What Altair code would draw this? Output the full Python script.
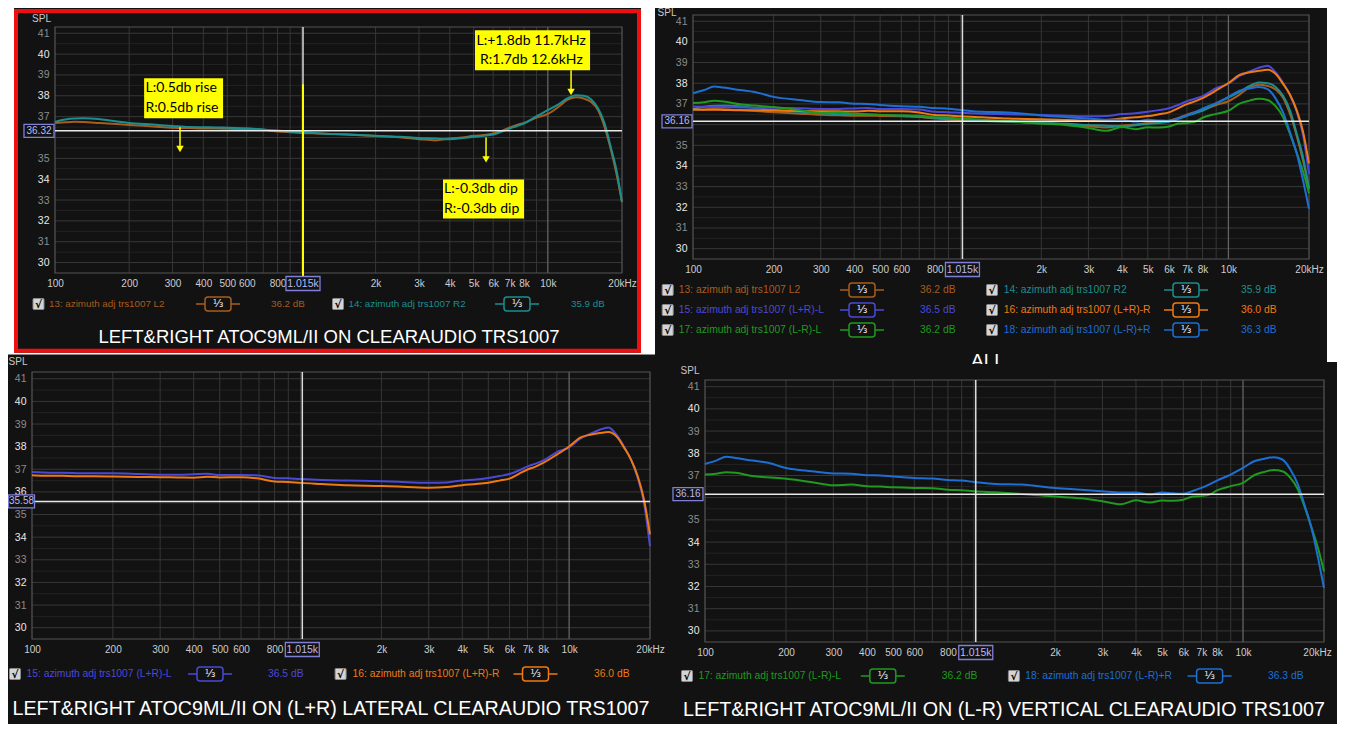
import altair as alt
import pandas as pd

# ------------------------------------------------------------------ data
FREQ = [100, 110, 120, 130, 150, 170, 200, 250, 300, 350, 400, 450, 500, 600, 700, 800, 900,
        1000, 1200, 1500, 2000, 2500, 3000, 3500, 4000, 4500, 5000, 5500, 6000, 6500, 7000,
        7500, 8000, 9000, 10000, 11000, 12000, 13000, 14000, 15000, 16000, 17000, 18000,
        19000, 20000]

S13 = [36.70, 36.73, 36.75, 36.74, 36.70, 36.66, 36.60, 36.53, 36.47, 36.45, 36.43, 36.43, 36.42,
       36.40, 36.37, 36.29, 36.25, 36.22, 36.19, 36.14, 36.07, 36.01, 35.92, 35.86, 35.95, 36.00,
       36.08, 36.12, 36.19, 36.32, 36.48, 36.60, 36.70, 36.95, 37.13, 37.45, 37.80, 37.93, 37.87,
       37.70, 37.30, 36.50, 35.45, 34.25, 32.90]
S14 = [36.75, 36.86, 36.91, 36.92, 36.89, 36.80, 36.70, 36.62, 36.55, 36.50, 36.49, 36.48, 36.47,
       36.44, 36.38, 36.33, 36.28, 36.26, 36.19, 36.15, 36.08, 36.04, 35.98, 35.95, 35.91, 35.97,
       36.03, 36.08, 36.14, 36.28, 36.43, 36.55, 36.67, 37.02, 37.31, 37.58, 37.87, 38.03, 38.00,
       37.82, 37.39, 36.67, 35.54, 34.42, 32.90]
S15 = [36.88, 36.86, 36.85, 36.85, 36.83, 36.82, 36.82, 36.79, 36.76, 36.76, 36.78, 36.80, 36.75,
       36.75, 36.73, 36.62, 36.60, 36.57, 36.53, 36.50, 36.47, 36.43, 36.40, 36.42, 36.51, 36.55,
       36.62, 36.70, 36.79, 36.95, 37.13, 37.25, 37.38, 37.76, 37.97, 38.35, 38.57, 38.75, 38.85,
       38.53, 38.01, 37.43, 36.62, 35.51, 33.60]
S16 = [36.74, 36.72, 36.72, 36.71, 36.69, 36.69, 36.68, 36.66, 36.65, 36.64, 36.63, 36.67, 36.64,
       36.65, 36.59, 36.46, 36.44, 36.40, 36.35, 36.29, 36.26, 36.22, 36.19, 36.22, 36.30, 36.35,
       36.41, 36.50, 36.59, 36.80, 36.99, 37.12, 37.28, 37.65, 38.01, 38.40, 38.53, 38.60, 38.65,
       38.46, 37.97, 37.43, 36.69, 35.66, 34.12]
S17 = [37.04, 37.08, 37.15, 37.12, 36.98, 36.92, 36.85, 36.70, 36.56, 36.59, 36.52, 36.50, 36.47,
       36.44, 36.43, 36.36, 36.34, 36.29, 36.24, 36.17, 36.05, 35.97, 35.84, 35.70, 35.88, 35.78,
       35.87, 35.86, 35.91, 36.05, 36.08, 36.14, 36.33, 36.52, 36.67, 37.01, 37.16, 37.25, 37.19,
       36.89, 36.37, 35.54, 34.63, 33.73, 32.68]
S18 = [37.52, 37.67, 37.84, 37.79, 37.67, 37.58, 37.34, 37.19, 37.09, 37.08, 37.01, 37.00, 36.95,
       36.89, 36.86, 36.80, 36.77, 36.71, 36.62, 36.59, 36.44, 36.36, 36.29, 36.23, 36.23, 36.15,
       36.23, 36.20, 36.18, 36.30, 36.44, 36.60, 36.77, 37.04, 37.34, 37.64, 37.75, 37.82, 37.72,
       37.27, 36.59, 35.60, 34.60, 33.30, 31.93]

SERIES_IDS = ["13", "14", "15", "16", "17", "18"]
SERIES_VALUES = [S13, S14, S15, S16, S17, S18]
SERIES_NAMES = ["13: azimuth adj trs1007 L2", "14: azimuth adj trs1007 R2",
                "15: azimuth adj trs1007 (L+R)-L", "16: azimuth adj trs1007 (L+R)-R",
                "17: azimuth adj trs1007 (L-R)-L", "18: azimuth adj trs1007 (L-R)+R"]
SERIES_DB = ["36.2 dB", "35.9 dB", "36.5 dB", "36.0 dB", "36.2 dB", "36.3 dB"]
SERIES_COLORS = ["#a85c1c", "#1b8f8f", "#4b49d8", "#ef7a12", "#1f9a1f", "#1d6fd2"]

X_TICKS = [100, 200, 300, 400, 500, 600, 800, 2000, 3000, 4000, 5000, 6000, 7000, 8000, 10000, 20000]
X_TICK_LABELS = ["100", "200", "300", "400", "500", "600", "800", "2k", "3k", "4k", "5k", "6k",
                 "7k", "8k", "10k", "20kHz"]
X_GRID = [200, 300, 400, 500, 600, 700, 800, 900, 1000, 2000, 3000, 4000, 5000, 6000, 7000,
          8000, 9000]
X_GRID_MAJOR = [10000]
Y_TICKS = [30, 31, 32, 33, 34, 35, 36, 37, 38, 39, 40, 41]
Y_GRID_MINOR = [30.5, 31.5, 32.5, 33.5, 34.5, 35.5, 36.5, 37.5, 38.5, 39.5, 40.5]
X_DOMAIN = [100, 20000]
Y_DOMAIN = [29.5, 41.3]

CURSOR_FREQ = 1015
CURSOR_FREQ_LABEL = "1.015k"

# annotations of the top-left panel
ANN_BOX_F1 = [230, 5064, 3755]
ANN_BOX_F2 = [481, 14836, 8007]
ANN_BOX_TOP = [38.84, 41.14, 33.99]
ANN_BOX_BOT = [36.92, 39.22, 32.11]
ANN_TEXT = ["L:0.5db rise", "R:0.5db rise", "L:+1.8db 11.7kHz", "R:1.7db 12.6kHz",
            "L:-0.3db dip", "R:-0.3db dip"]
ANN_TEXT_F = [233, 233, 5136, 5306, 3790, 3790]
ANN_TEXT_SPL = [38.36, 37.40, 40.62, 39.70, 33.51, 32.59]
ARROW_F = [321.6, 12425, 5614]
ARROW_TOP = [36.49, 39.22, 36.00]
ARROW_TIP = [35.45, 38.18, 34.95]
YELLOW_CURSOR_TOP = 38.55

# ------------------------------------------------------------------ styles / layout
BG = "#121212"
SANS = "Liberation Sans, Arial, sans-serif"
M = 8                     # page margin: layout numbers below are page pixels
W_CHART, H_CHART = 1329, 716
ONE = pd.DataFrame({"k": [0]})

PANELS = {
    "TL": dict(ids=["13", "14"], box=(55, 622, 27, 273), cursor=36.32, ybox_x=39, ybox_hw=15,
               hidden=[36], last_offset=0,
               legend=[("13", 38.5, 49, 218, 271, 304), ("14", 338, 348.5, 517, 571, 304)],
               lfont=9.8, spl=(41.5, 18.5),
               titles=[("LEFT&RIGHT ATOC9ML/II ON CLEARAUDIO TRS1007", 329, 336.5, 18.5, "middle")]),
    "TR": dict(ids=SERIES_IDS, box=(693, 1309, 15, 259), cursor=36.16, ybox_x=677, ybox_hw=15,
               hidden=[36], last_offset=0,
               legend=[("13", 667.7, 678.8, 862, 920, 290), ("14", 992, 1003.7, 1186, 1241, 290),
                       ("15", 667.7, 678.8, 862, 920, 310), ("16", 992, 1003.7, 1186, 1241, 310),
                       ("17", 667.7, 678.8, 862, 920, 330), ("18", 992, 1003.7, 1186, 1241, 330)],
               lfont=10.3, spl=(667, 13),
               titles=[("ALL", 988, 367, 19, "alphabetic")]),
    "BL": dict(ids=["15", "16"], box=(32, 650, 372, 639), cursor=35.58, ybox_x=21.5, ybox_hw=13,
               hidden=[], last_offset=0,
               legend=[("15", 15, 26.5, 210, 268, 674), ("16", 340.6, 352.6, 535.5, 594, 674)],
               lfont=10.3, spl=(18, 362),
               titles=[("LEFT&RIGHT ATOC9ML/II ON (L+R) LATERAL CLEARAUDIO TRS1007", 331, 708.5, 19.7, "middle")]),
    "BR": dict(ids=["17", "18"], box=(705, 1324, 380, 642), cursor=36.16, ybox_x=688, ybox_hw=15,
               hidden=[36], last_offset=-7,
               legend=[("17", 687, 698.4, 882.8, 941.8, 676), ("18", 1013.9, 1025.2, 1209.6, 1268, 676)],
               lfont=10.3, spl=(690, 371),
               titles=[("LEFT&RIGHT ATOC9ML/II ON (L-R) VERTICAL CLEARAUDIO TRS1007", 1004, 710, 19.7, "middle")]),
}
# page-pixel rectangles
WHITE_AREAS = [(0, 14, 0, 354), (641, 655, 0, 354), (0, 655, 352.7, 354.5), (1327, 1345, 0, 362)]
RED_FRAME = (16, 639, 11, 350.7, 4)
ALL_COVER = (955, 1022, 364, 380)

# ------------------------------------------------------------------ tables
rows = []
for sid, vals in zip(SERIES_IDS, SERIES_VALUES):
    for f, v in zip(FREQ, vals):
        rows.append({"freq": f, "spl": v, "series": sid})
LONG = pd.DataFrame(rows)

x_label_expr = " : ".join(f"datum.value == {v} ? '{t}'" for v, t in zip(X_TICKS, X_TICK_LABELS)) + " : ''"
COLOR_SCALE = alt.Scale(domain=SERIES_IDS, range=SERIES_COLORS)


def px(v):
    return v - M


def box_shape(hw, hh):
    r = hh / hw
    return f"M-1,-{r:.4f}L1,-{r:.4f}L1,{r:.4f}L-1,{r:.4f}Z", (2 * hw) ** 2


def vrect(x1, x2, y1, y2, fill="transparent", stroke=None, sw=0, radius=0):
    kw = dict(fill=fill, cornerRadius=radius)
    if stroke:
        kw.update(stroke=stroke, strokeWidth=sw)
    else:
        kw.update(strokeWidth=0)
    return alt.Chart(ONE).mark_rect(**kw).encode(
        x=alt.value(px(x1)), x2=alt.value(px(x2)), y=alt.value(px(y1)), y2=alt.value(px(y2)))


def vtext(text, x, y, color, size, font=SANS, align="left", baseline="middle", weight="normal"):
    return alt.Chart(ONE).mark_text(text=text, align=align, baseline=baseline, color=color,
                                    fontSize=size, font=font, fontWeight=weight).encode(
        x=alt.value(px(x)), y=alt.value(px(y)))


def vrule(x1, x2, y, color, sw):
    return alt.Chart(ONE).mark_rule(color=color, strokeWidth=sw).encode(
        x=alt.value(px(x1)), x2=alt.value(px(x2)), y=alt.value(px(y)))


def build(key):
    P = PANELS[key]
    L, R, T, B = P["box"]
    xs = alt.Scale(type="log", domain=X_DOMAIN, range=[px(L), px(R)], nice=False)
    ys = alt.Scale(domain=Y_DOMAIN, range=[px(B), px(T)], nice=False, zero=False)
    xa = alt.Axis(orient="bottom", offset=px(B) - H_CHART, values=X_TICKS, labelExpr=x_label_expr,
                  grid=False, ticks=False, domain=False, labelColor="#cdcdcd", labelFont=SANS,
                  labelFontSize=10, labelPadding=5, labelOverlap=False, labelFlush=False, title=None,
                  labelOffset={"condition": {"test": "datum.value == 20000", "value": P["last_offset"]},
                               "value": 0})
    ya = alt.Axis(orient="left", offset=-px(L), values=[v for v in Y_TICKS if v not in P["hidden"]],
                  grid=False, ticks=False, domain=False,
                  labelColor={"condition": {"test": "datum.value % 2 == 0", "value": "#e8e8e8"},
                              "value": "#8c8c8c"},
                  labelFont=SANS, labelFontSize=10.5, labelPadding=6, labelOverlap=False, title=None)
    X = alt.X("freq:Q", scale=xs, axis=xa)
    Y = alt.Y("spl:Q", scale=ys, axis=ya)

    layers = []
    # grid and frame
    layers.append(alt.Chart(pd.DataFrame({"spl": Y_GRID_MINOR, "freq": X_DOMAIN[0], "freq2": X_DOMAIN[1]}))
                  .mark_rule(color="#232323", strokeWidth=1).encode(x=X, x2="freq2:Q", y=Y))
    layers.append(alt.Chart(pd.DataFrame({"spl": Y_TICKS, "freq": X_DOMAIN[0], "freq2": X_DOMAIN[1]}))
                  .mark_rule(color="#383838", strokeWidth=1).encode(x=X, x2="freq2:Q", y=Y))
    layers.append(alt.Chart(pd.DataFrame({"freq": X_GRID, "spl": Y_DOMAIN[0], "spl2": Y_DOMAIN[1]}))
                  .mark_rule(color="#363636", strokeWidth=1).encode(x=X, y=Y, y2="spl2:Q"))
    layers.append(alt.Chart(pd.DataFrame({"freq": X_GRID_MAJOR, "spl": Y_DOMAIN[0], "spl2": Y_DOMAIN[1]}))
                  .mark_rule(color="#646464", strokeWidth=1.3).encode(x=X, y=Y, y2="spl2:Q"))
    layers.append(alt.Chart(pd.DataFrame({"freq": [X_DOMAIN[0]], "freq2": [X_DOMAIN[1]],
                                          "spl": [Y_DOMAIN[0]], "spl2": [Y_DOMAIN[1]]}))
                  .mark_rect(fill="transparent", stroke="#555555", strokeWidth=1.2)
                  .encode(x=X, x2="freq2:Q", y=Y, y2="spl2:Q"))

    # response curves
    sub = LONG[LONG["series"].isin(P["ids"])]
    layers.append(alt.Chart(sub).mark_line(strokeWidth=2, interpolate="monotone", clip=True).encode(
        x=X, y=Y, color=alt.Color("series:N", scale=COLOR_SCALE, legend=None)))

    # cursor lines
    layers.append(alt.Chart(pd.DataFrame({"freq": [CURSOR_FREQ], "spl": [Y_DOMAIN[0]], "spl2": [Y_DOMAIN[1]]}))
                  .mark_rule(color="#dcdcdc", strokeWidth=1.5).encode(x=X, y=Y, y2="spl2:Q"))
    layers.append(alt.Chart(pd.DataFrame({"spl": [P["cursor"]], "freq": [X_DOMAIN[0]], "freq2": [X_DOMAIN[1]]}))
                  .mark_rule(color="#e8e8e8", strokeWidth=1.5).encode(y=Y, x=X, x2="freq2:Q"))
    if key == "TL":
        layers.append(alt.Chart(pd.DataFrame({"freq": [CURSOR_FREQ], "spl": [YELLOW_CURSOR_TOP]}))
                      .mark_rule(color="#ffff00", strokeWidth=2).encode(x=X, y=Y, y2=alt.value(px(B) + 4)))

    # cursor value boxes
    path, size = box_shape(P["ybox_hw"], 6.5)
    cur_df = pd.DataFrame({"spl": [P["cursor"]], "t": [f"{P['cursor']:.2f}"]})
    layers.append(alt.Chart(cur_df).mark_point(shape=path, size=size, filled=True, fill=BG,
                                               stroke="#7f7fd6", strokeWidth=1.3, opacity=1).encode(
        y=Y, x=alt.value(px(P["ybox_x"]))))
    layers.append(alt.Chart(cur_df).mark_text(font=SANS, fontSize=10, color="#b9b9f2").encode(
        y=Y, x=alt.value(px(P["ybox_x"])), text="t:N"))
    path2, size2 = box_shape(17, 7)
    fx_df = pd.DataFrame({"freq": [CURSOR_FREQ], "t": [CURSOR_FREQ_LABEL]})
    layers.append(alt.Chart(fx_df).mark_point(shape=path2, size=size2, filled=True, fill=BG,
                                              stroke="#7f7fd6", strokeWidth=1.3, opacity=1).encode(
        x=X, y=alt.value(px(B) + 10.5)))
    layers.append(alt.Chart(fx_df).mark_text(font=SANS, fontSize=10.5, color="#b9b9f2").encode(
        x=X, y=alt.value(px(B) + 10.5), text="t:N"))

    # annotations (top-left panel)
    if key == "TL":
        boxes = pd.DataFrame({"freq": ANN_BOX_F1, "freq2": ANN_BOX_F2,
                              "spl": ANN_BOX_TOP, "spl2": ANN_BOX_BOT})
        layers.append(alt.Chart(boxes).mark_rect(color="#ffff00", opacity=1).encode(
            x=X, x2="freq2:Q", y=Y, y2="spl2:Q"))
        texts = pd.DataFrame({"freq": ANN_TEXT_F, "spl": ANN_TEXT_SPL, "t": ANN_TEXT})
        layers.append(alt.Chart(texts).mark_text(align="left", baseline="middle", font="Lato",
                                                 fontSize=14, color="#000000").encode(
            x=X, y=Y, text="t:N"))
        arrows = pd.DataFrame({"freq": ARROW_F, "spl": ARROW_TOP, "spl2": ARROW_TIP})
        layers.append(alt.Chart(arrows).mark_rule(color="#ffff00", strokeWidth=1.5).encode(
            x=X, y=Y, y2="spl2:Q"))
        heads = pd.DataFrame({"freq": ARROW_F, "spl": ARROW_TIP})
        layers.append(alt.Chart(heads).mark_point(shape="triangle-down", size=55, filled=True,
                                                  color="#ffff00", opacity=1).encode(x=X, y=Y))

    # SPL label
    layers.append(vtext("SPL", P["spl"][0], P["spl"][1], "#c8c8c8", 10, align="center"))

    # legend rows
    for (sid, cb, lab, bx, dbx, row) in P["legend"]:
        i = SERIES_IDS.index(sid)
        col = SERIES_COLORS[i]
        layers.append(vrect(cb - 5.5, cb + 5.5, row - 5.5, row + 5.5, "#d4d4d4", "#8a8a8a", 1, 1))
        layers.append(vtext("\u221a", cb, row + 0.5, "#000000", 10.5, font="DejaVu Sans",
                            align="center", weight="bold"))
        layers.append(vtext(SERIES_NAMES[i], lab, row, col, P["lfont"]))
        layers.append(vrule(bx - 22, bx + 22, row, col, 1.5))
        layers.append(vrect(bx - 13, bx + 13, row - 7, row + 7, BG, col, 1.5, 3))
        layers.append(vtext("\u2153", bx, row, "#f0f0f0", 11, font="DejaVu Sans", align="center"))
        layers.append(vtext(SERIES_DB[i], dbx, row, col, P["lfont"]))

    # panel titles
    for (t, tx, ty, ts, tb) in P["titles"]:
        layers.append(vtext(t, tx, ty, "#ffffff", ts, align="center", baseline=tb))
    if key == "TR":
        c = ALL_COVER
        layers.append(vrect(c[0], c[1], c[2], c[3], BG))
    return alt.layer(*layers)


frame_layers = [vrect(x1, x2, y1, y2, "white") for (x1, x2, y1, y2) in WHITE_AREAS]
rf = RED_FRAME
frame_layers.append(vrect(rf[0], rf[1], rf[2], rf[3], "transparent", "#ee1010", rf[4]))

chart = alt.layer(
    alt.layer(*frame_layers),
    build("TL"), build("TR"), build("BL"), build("BR"),
).resolve_scale(x="independent", y="independent").resolve_axis(
    x="independent", y="independent"
).properties(
    width=W_CHART, height=H_CHART, padding=0, autosize=alt.AutoSizeParams(type="none")
).configure(background=BG).configure_view(stroke=None)

chart.save("out.html", embed_options={"renderer": "svg", "actions": False})
